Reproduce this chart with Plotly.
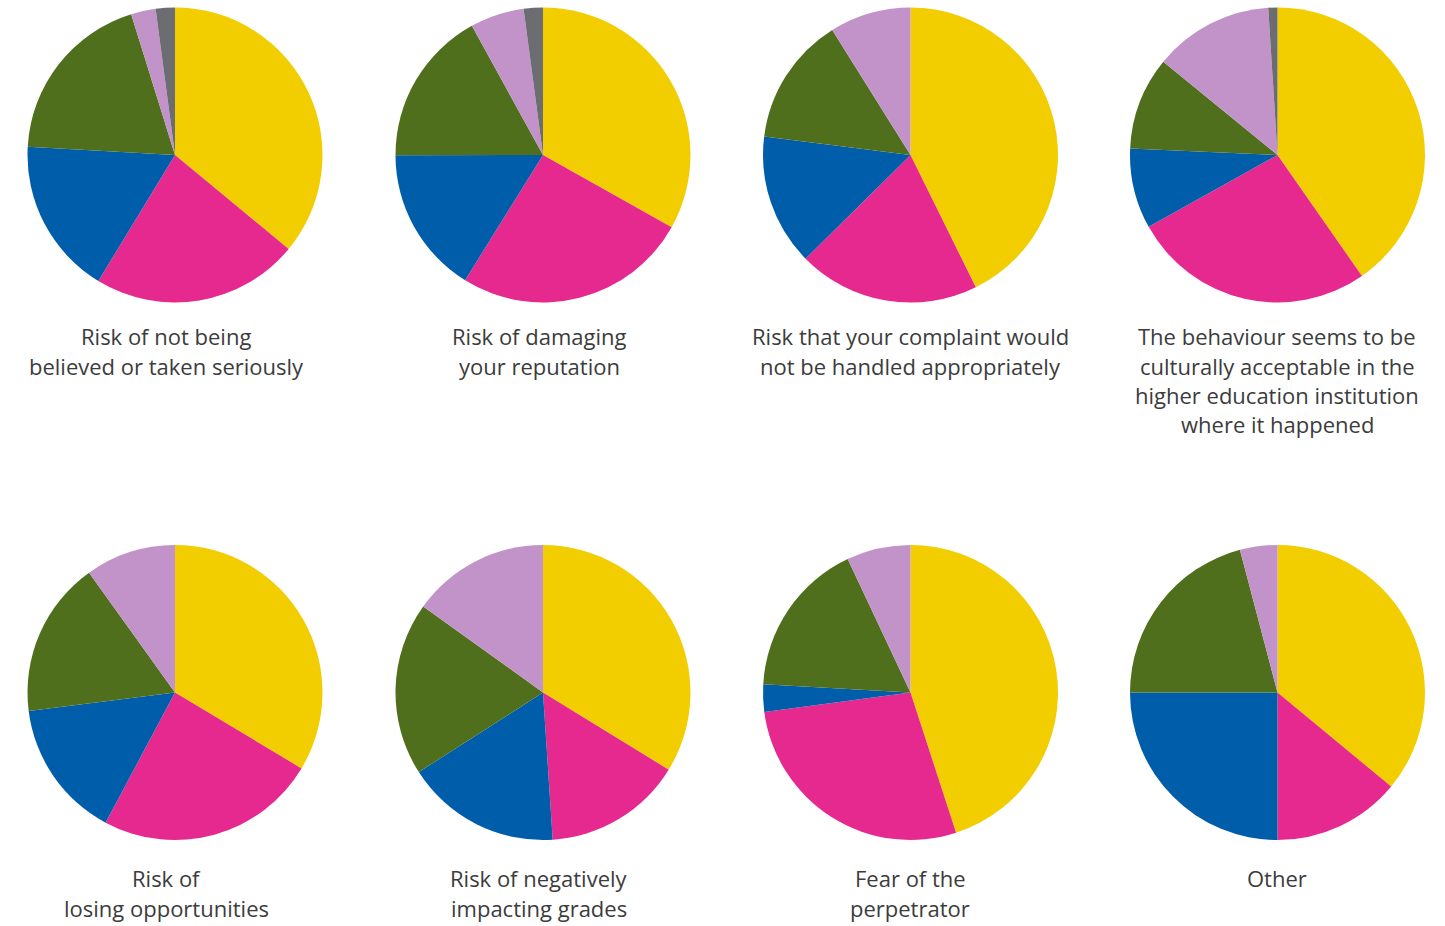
import plotly.graph_objects as go

W, H = 1445, 926

categories = ["Response 1", "Response 2", "Response 3", "Response 4", "Response 5", "Response 6"]
colors = ["#F2CD00", "#E5298F", "#005DAA", "#4F6F1C", "#C293C8", "#6B6D70"]

titles = [
    "Risk of not being\nbelieved or taken seriously",
    "Risk of damaging\nyour reputation",
    "Risk that your complaint would\nnot be handled appropriately",
    "The behaviour seems to be\nculturally acceptable in the\nhigher education institution\nwhere it happened",
    "Risk of\nlosing opportunities",
    "Risk of negatively\nimpacting grades",
    "Fear of the\nperpetrator",
    "Other",
]

v_believed = [36.0, 22.7, 17.2, 19.3, 2.7, 2.1]
v_reputation = [33.1, 25.7, 16.1, 17.0, 5.9, 2.1]
v_complaint = [42.7, 19.9, 14.4, 14.1, 8.9, 0.0]
v_cultural = [40.3, 26.6, 8.8, 10.2, 13.1, 1.0]
v_opportunities = [33.6, 24.2, 15.2, 17.1, 9.9, 0.0]
v_grades = [33.8, 15.2, 17.0, 19.0, 15.1, 0.0]
v_perpetrator = [45.0, 27.9, 3.0, 17.1, 7.0, 0.0]
v_other = [36.0, 14.0, 25.0, 20.9, 4.1, 0.0]

series = [v_believed, v_reputation, v_complaint, v_cultural,
          v_opportunities, v_grades, v_perpetrator, v_other]

# layout geometry (pixels)
col_cx = [175, 543, 910.5, 1277.5]
row_cy = [155, 692.5]
R = 147.5
label_x = [166, 539, 910, 1277]
label_top = [336, 878]
line_gap = 29.5

fig = go.Figure()
for i, vals in enumerate(series):
    r, c = divmod(i, 4)
    cx, cy = col_cx[c], row_cy[r]
    fig.add_trace(go.Pie(
        labels=categories, values=vals, sort=False, direction="clockwise",
        rotation=0, textinfo="none", hole=0,
        marker=dict(colors=colors, line=dict(width=0)),
        domain=dict(x=[(cx - R) / W, (cx + R) / W],
                    y=[1 - (cy + R) / H, 1 - (cy - R) / H]),
        showlegend=False, name=titles[i].replace("\n", " "),
    ))
    for k, line in enumerate(titles[i].split("\n")):
        y = label_top[r] + k * line_gap
        fig.add_annotation(
            x=label_x[c] / W, y=1 - y / H, xref="paper", yref="paper",
            text=line, showarrow=False, xanchor="center", yanchor="middle",
            font=dict(family="Open Sans", size=22, color="#3c3c3c"),
        )

fig.update_layout(
    width=W, height=H, margin=dict(l=0, r=0, t=0, b=0),
    paper_bgcolor="white", plot_bgcolor="white",
)
fig.write_html("out.html", config={"displayModeBar": False},
               post_script="document.body.style.margin='0';document.body.style.overflow='hidden';")
